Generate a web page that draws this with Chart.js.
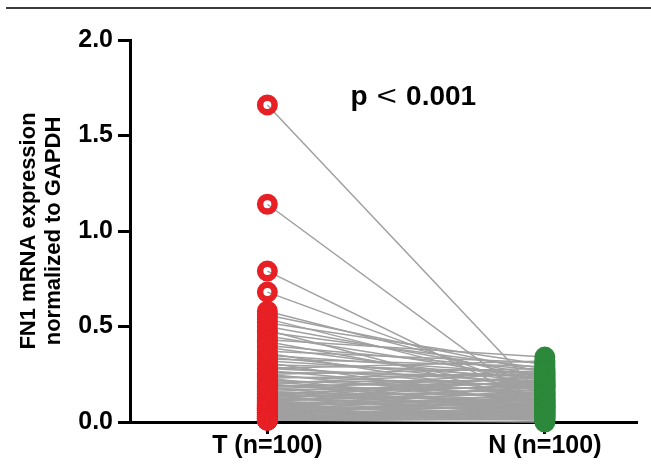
<!DOCTYPE html>
<html><head><meta charset="utf-8">
<script src="https://cdn.jsdelivr.net/npm/chart.js@4.4.1/dist/chart.umd.min.js"></script>
<style>
html,body{margin:0;padding:0;background:#fff;}
#wrap{position:relative;width:651px;height:465px;overflow:hidden;}
#rule{position:absolute;left:6px;right:0;top:7px;height:0;border-top:2.5px solid #3c3c3c;}
canvas{position:absolute;left:0;top:0;}
</style></head><body>
<div id="wrap"><canvas id="c" width="651" height="465"></canvas><div id="rule"></div></div>
<script>
// ---- data ----
const groups = ['T (n=100)', 'N (n=100)'];
const yTickLabels = ['0.0', '0.5', '1.0', '1.5', '2.0'];
const yTitleLines = ['FN1 mRNA expression', 'normalized to GAPDH'];
const pText = ['p', '<', '0.001'];

const tumor = [
  1.66,1.14,0.79,0.68,0.58,0.56,0.54,0.52,0.50,0.48,
  0.47,0.45,0.43,0.42,0.40,0.39,0.37,0.36,0.35,0.34,
  0.33,0.32,0.31,0.30,0.29,0.28,0.28,0.27,0.26,0.25,
  0.25,0.24,0.23,0.23,0.22,0.21,0.21,0.20,0.20,0.19,
  0.19,0.18,0.18,0.17,0.17,0.16,0.16,0.15,0.15,0.15,
  0.14,0.14,0.13,0.13,0.13,0.12,0.12,0.12,0.11,0.11,
  0.11,0.10,0.10,0.10,0.09,0.09,0.09,0.08,0.08,0.08,
  0.08,0.07,0.07,0.07,0.07,0.06,0.06,0.06,0.06,0.05,
  0.05,0.05,0.05,0.04,0.04,0.04,0.04,0.03,0.03,0.03,
  0.03,0.02,0.02,0.02,0.02,0.01,0.01,0.01,0.01,0.01
];
const normal = [
  0.12,0.07,0.08,0.15,0.21,0.26,0.18,0.30,0.24,0.10,
  0.28,0.22,0.34,0.16,0.27,0.20,0.31,0.13,0.25,0.19,
  0.29,0.23,0.09,0.26,0.17,0.32,0.21,0.14,0.24,0.11,
  0.28,0.19,0.06,0.25,0.16,0.22,0.12,0.27,0.08,0.20,
  0.15,0.23,0.05,0.18,0.26,0.10,0.21,0.14,0.07,0.19,
  0.24,0.11,0.17,0.04,0.22,0.13,0.09,0.20,0.15,0.06,
  0.18,0.12,0.25,0.08,0.16,0.03,0.11,0.19,0.07,0.14,
  0.05,0.10,0.17,0.02,0.13,0.08,0.15,0.04,0.11,0.06,
  0.12,0.03,0.09,0.14,0.05,0.07,0.01,0.10,0.04,0.06,
  0.02,0.08,0.03,0.05,0.01,0.04,0.02,0.06,0.00,0.03
];

// ---- styles ----
const FONT = '"Liberation Sans", Arial, Helvetica, sans-serif';
const RED = 'rgb(230,32,36)';
const GREEN = 'rgb(44,136,58)';
const LINK = 'rgb(160,160,160)';

const linkSets = tumor.map((t, i) => ({
  data: [{x: 0, y: t}, {x: 1, y: normal[i]}],
  showLine: true,
  borderColor: LINK,
  borderWidth: 1.5,
  pointRadius: 0,
  order: 2,
  clip: false
}));

const pointStyle = (color) => ({
  pointRadius: 7.25,
  pointBorderWidth: 6.5,
  pointBorderColor: color,
  pointBackgroundColor: 'rgba(0,0,0,0)',
  pointHoverRadius: 7.25,
  showLine: false,
  order: 1,
  clip: false
});

const pPlugin = {
  id: 'pval',
  afterDatasetsDraw(chart) {
    const {ctx, scales: {x, y}} = chart;
    const cx = x.getPixelForValue(0.526);
    const by = y.getPixelForValue(1.66);
    ctx.save();
    ctx.fillStyle = '#000';
    ctx.textBaseline = 'alphabetic';
    ctx.textAlign = 'left';
    const bold = 'bold 28px ' + FONT;
    const reg = '28px ' + FONT;
    ctx.font = bold; const w0 = ctx.measureText(pText[0]).width;
    const w2 = ctx.measureText(pText[2]).width;
    ctx.font = reg; const w1 = ctx.measureText(pText[1]).width * 1.25;
    const gap = 9;
    let sx = cx - (w0 + gap + w1 + gap + w2) / 2;
    ctx.font = bold; ctx.fillText(pText[0], sx, by);
    sx += w0 + gap;
    ctx.font = reg;
    ctx.save(); ctx.translate(sx, by); ctx.scale(1.25, 1); ctx.fillText(pText[1], 0, 0); ctx.restore();
    sx += w1 + gap;
    ctx.font = bold; ctx.fillText(pText[2], sx, by);
    ctx.restore();
  }
};

new Chart(document.getElementById('c'), {
  type: 'scatter',
  data: {
    datasets: [
      ...linkSets,
      Object.assign({data: tumor.map(v => ({x: 0, y: v}))}, pointStyle(RED)),
      Object.assign({data: normal.map(v => ({x: 1, y: v}))}, pointStyle(GREEN))
    ]
  },
  options: {
    responsive: false,
    animation: false,
    events: [],
    layout: {padding: {top: 40, left: 0, right: 0, bottom: 0}},
    plugins: {legend: {display: false}, tooltip: {enabled: false}, title: {display: false}},
    scales: {
      x: {
        type: 'linear',
        min: -0.495,
        max: 1.333,
        afterBuildTicks: s => { s.ticks = groups.map((g, i) => ({value: i})); },
        afterFit: s => { s.height = 43; },
        grid: {display: true, drawOnChartArea: false, drawTicks: true, tickLength: 12, tickWidth: 3, tickColor: '#000', color: '#000'},
        border: {display: true, color: '#000', width: 3},
        ticks: {
          callback: (v, i) => groups[i],
          font: {family: FONT, size: 25, weight: 'bold', lineHeight: 1},
          color: '#000', padding: 0, maxRotation: 0, autoSkip: false
        }
      },
      y: {
        min: 0,
        max: 2,
        afterFit: s => { s.width = 130; },
        grid: {display: true, drawOnChartArea: false, drawTicks: true, tickLength: 12, tickWidth: 3, tickColor: '#000', color: '#000'},
        border: {display: true, color: '#000', width: 3},
        ticks: {
          stepSize: 0.5,
          callback: v => yTickLabels[Math.round(v * 2)],
          font: {family: FONT, size: 25, weight: 'bold'},
          color: '#000', padding: 5
        },
        title: {
          display: true,
          text: yTitleLines,
          color: '#000',
          font: {family: FONT, size: 22, weight: 'bold', lineHeight: 1.14},
          padding: {top: 16, bottom: 0}
        }
      }
    }
  },
  plugins: [pPlugin]
});
</script>
</body></html>
